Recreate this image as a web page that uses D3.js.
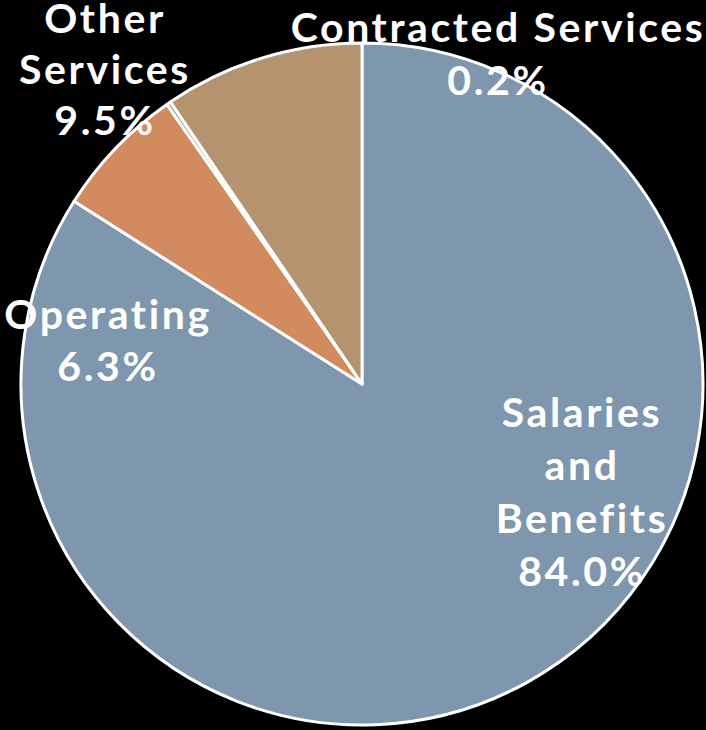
<!DOCTYPE html>
<html>
<head>
<meta charset="utf-8">
<script src="https://cdn.jsdelivr.net/npm/d3@7"></script>
<style>
  html, body { margin: 0; padding: 0; background: #000; }
  svg { display: block; }
  .lbl { font-family: Lato, "Open Sans", sans-serif; font-weight: 700; fill: #fff; letter-spacing: 2.6px; }
</style>
</head>
<body>
<svg id="chart" width="706" height="730"></svg>
<script>
// Budget shares by category, clockwise from 12 o'clock
const categories = ["Salaries and Benefits", "Operating", "Contracted Services", "Other Services"];
const shares = [84.0, 6.3, 0.2, 9.5];
const sliceColors = ["#7f97ae", "#d18b5f", "#9a8f85", "#b5936e"];
// Label lines per category (last line is the percentage)
const labelLines = [
  ["Salaries", "and", "Benefits", "84.0%"],
  ["Operating", "6.3%"],
  ["Contracted Services", "0.2%"],
  ["Other", "Services", "9.5%"]
];

const W = 706, H = 730;
const cx = 362, cy = 384, R = 341;
const svg = d3.select("#chart");

const data = categories.map((c, i) => ({ name: c, value: shares[i], color: sliceColors[i], lines: labelLines[i] }));

const pie = d3.pie().value(d => d.value).sort(null).startAngle(0).endAngle(2 * Math.PI);
const arc = d3.arc().innerRadius(0).outerRadius(R);

const g = svg.append("g").attr("transform", `translate(${cx},${cy})`);
const arcs = pie(data);

g.selectAll("path.slice")
  .data(arcs)
  .enter().append("path")
  .attr("class", "slice")
  .attr("d", arc)
  .attr("fill", d => d.data.color)
  .attr("stroke", "#fff")
  .attr("stroke-width", 3)
  .attr("stroke-linejoin", "round");

// Label block placement (centre x, first baseline y, line spacing) in page coordinates
const labelPlacement = {
  "Salaries and Benefits": { x: 582, y: 427, dy: 53 },
  "Operating": { x: 108, y: 329, dy: 52 },
  "Contracted Services": { x: 498, y: 42, dy: 53 },
  "Other Services": { x: 105, y: 33, dy: 51 }
};

const labels = svg.append("g");
data.forEach(d => {
  const p = labelPlacement[d.name];
  const t = labels.append("text")
    .attr("class", "lbl")
    .attr("text-anchor", "middle")
    .attr("font-size", 41);
  d.lines.forEach((ln, i) => {
    t.append("tspan").attr("x", p.x).attr("y", p.y + i * p.dy).text(ln);
  });
});
</script>
</body>
</html>
